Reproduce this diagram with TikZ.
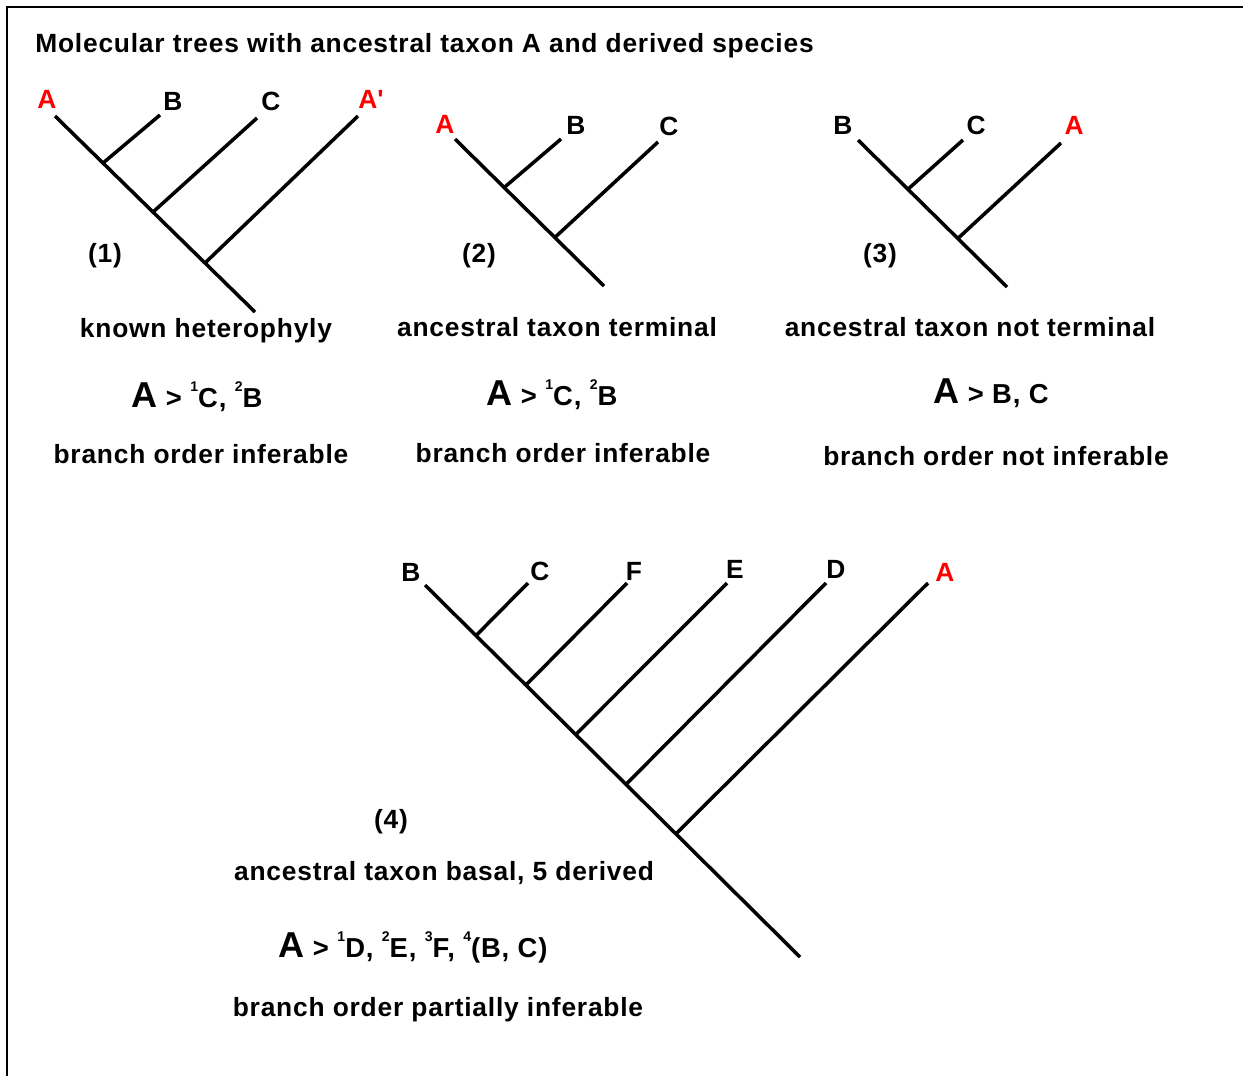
\documentclass[tikz,border=0pt]{standalone}
\usepackage{fontspec}
\setmainfont{Liberation Sans}[LetterSpace=3]
\usetikzlibrary{calc}
\newcommand{\capfont}{\fontsize{15pt}{17pt}\selectfont\bfseries}
\newcommand{\bigA}{{\fontsize{20.5pt}{22pt}\selectfont A}}
\newcommand{\rank}[1]{\raisebox{0.55em}{\fontsize{8pt}{9pt}\selectfont #1}}
\tikzset{
  frame/.style={line width=1.2pt},
  branch/.style={line width=2pt},
  caption/.style={font=\capfont, inner sep=0pt, anchor=base},
  taxon/.style={caption},
  ancestor/.style={taxon, text=red},
  order/.style={font=\fontsize{15.6pt}{18pt}\selectfont\bfseries, inner sep=0pt, anchor=base},
}

\begin{document}
\begin{tikzpicture}[x=0.02cm, y=-0.02cm]
  \useasboundingbox (0,0) rectangle (1243,1076);
  \coordinate (fbl) at (7,1076);
  \coordinate (ftl) at (7,7);
  \coordinate (ftr) at (1243,7);
  \draw[frame] (fbl) -- (ftl) -- (ftr);

  \node[caption, anchor=base west] (title) at (35,52)
    {Molecular trees with ancestral taxon A and derived species};

  % tree (1)
  \coordinate (t1a) at (55,116);
  \coordinate (r1)  at (255,312);
  \coordinate (j1b) at ($(t1a)!0.24!(r1)$);
  \coordinate (j1c) at ($(t1a)!0.49!(r1)$);
  \coordinate (j1p) at ($(t1a)!0.75!(r1)$);
  \coordinate (t1b) at (160,115);
  \coordinate (t1c) at (257,118);
  \coordinate (t1p) at (358,116);
  \draw[branch] (t1a) -- (r1);
  \draw[branch] (j1b) -- (t1b);
  \draw[branch] (j1c) -- (t1c);
  \draw[branch] (j1p) -- (t1p);
  \node[ancestor] (n1a) at (47,108)  {A};
  \node[taxon]    (n1b) at (173,110) {B};
  \node[taxon]    (n1c) at (271,110) {C};
  \node[ancestor] (n1p) at (371,108) {A\textquotesingle};
  \node[caption]  (k1)  at (105,262) {(1)};
  \node[caption]  (d1)  at (206,337) {known heterophyly};
  \node[order]    (f1)  at (197,407) {\bigA{} > \rank{1}C, \rank{2}B};
  \node[caption]  (o1)  at (201,463) {branch order inferable};

  % tree (2)
  \coordinate (t2a) at (455,139);
  \coordinate (r2)  at (604,286);
  \coordinate (j2b) at ($(t2a)!0.33!(r2)$);
  \coordinate (j2c) at ($(t2a)!0.67!(r2)$);
  \coordinate (t2b) at (561,139);
  \coordinate (t2c) at (658,142);
  \draw[branch] (t2a) -- (r2);
  \draw[branch] (j2b) -- (t2b);
  \draw[branch] (j2c) -- (t2c);
  \node[ancestor] (n2a) at (445,133) {A};
  \node[taxon]    (n2b) at (576,134) {B};
  \node[taxon]    (n2c) at (669,135) {C};
  \node[caption]  (k2)  at (479,262) {(2)};
  \node[caption]  (d2)  at (557,336) {ancestral taxon terminal};
  \node[order]    (f2)  at (552,405) {\bigA{} > \rank{1}C, \rank{2}B};
  \node[caption]  (o2)  at (563,462) {branch order inferable};

  % tree (3)
  \coordinate (t3b) at (858,140);
  \coordinate (r3)  at (1007,287);
  \coordinate (j3c) at ($(t3b)!0.335!(r3)$);
  \coordinate (j3a) at ($(t3b)!0.67!(r3)$);
  \coordinate (t3c) at (963,140);
  \coordinate (t3a) at (1061,143);
  \draw[branch] (t3b) -- (r3);
  \draw[branch] (j3c) -- (t3c);
  \draw[branch] (j3a) -- (t3a);
  \node[taxon]    (n3b) at (843,134)  {B};
  \node[taxon]    (n3c) at (976,134)  {C};
  \node[ancestor] (n3a) at (1074,134) {A};
  \node[caption]  (k3)  at (880,262)  {(3)};
  \node[caption]  (d3)  at (970,336)  {ancestral taxon not terminal};
  \node[order]    (f3)  at (991,403)  {\bigA{}\ > B, C};
  \node[caption]  (o3)  at (996,465)  {branch order not inferable};

  % tree (4)
  \coordinate (t4b) at (425,585);
  \coordinate (r4)  at (800,957);
  \foreach \tx/\fr/\ux in {c/0.136/528, f/0.269/627, e/0.402/727, d/0.536/826, a/0.669/928}{
    \coordinate (j4\tx) at ($(t4b)!\fr!(r4)$);
    \coordinate (t4\tx) at (\ux,583);
  }
  \draw[branch] (t4b) -- (r4);
  \foreach \tx in {c,f,e,d,a}
    \draw[branch] (j4\tx) -- (t4\tx);
  \node[taxon]    (n4b) at (411,581) {B};
  \node[taxon]    (n4c) at (540,580) {C};
  \node[taxon]    (n4f) at (634,580) {F};
  \node[taxon]    (n4e) at (735,578) {E};
  \node[taxon]    (n4d) at (836,578) {D};
  \node[ancestor] (n4a) at (945,581) {A};
  \node[caption]  (k4)  at (391,828) {(4)};
  \node[caption]  (d4)  at (444,880) {ancestral taxon basal, 5 derived};
  \node[order]    (f4)  at (413,957)
    {\bigA{} >\ \rank{1}D, \rank{2}E, \rank{3}F, \rank{4}(B, C)};
  \node[caption]  (o4)  at (438,1016) {branch order partially inferable};
\end{tikzpicture}
\end{document}
